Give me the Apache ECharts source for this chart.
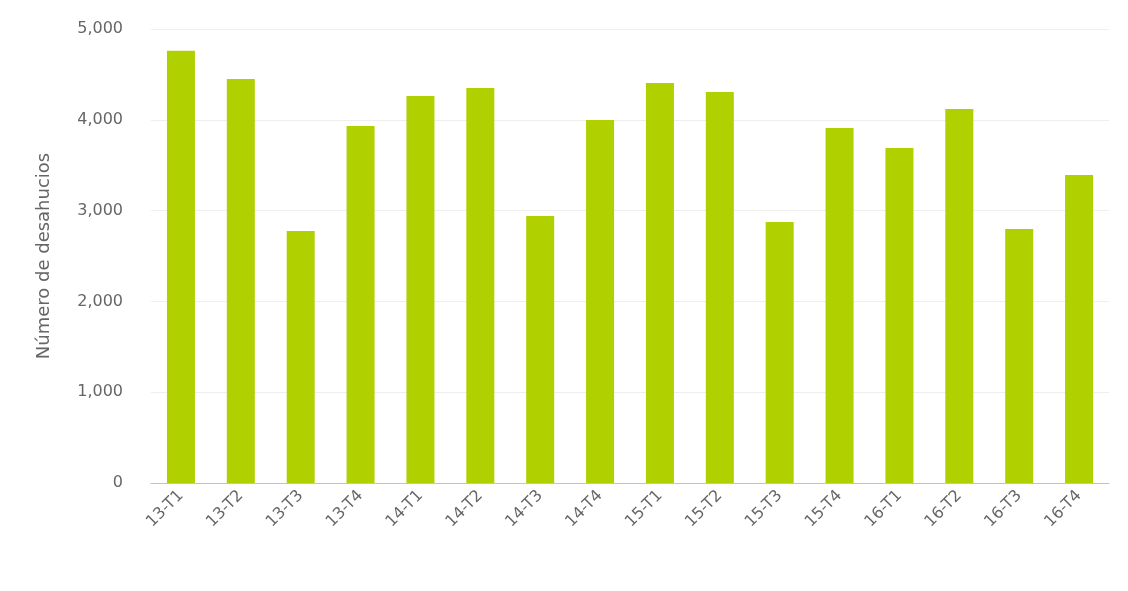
<!DOCTYPE html>
<html>
<head>
<meta charset="utf-8">
<script src="https://cdn.jsdelivr.net/npm/echarts@6/dist/echarts.min.js"></script>
<style>html,body{margin:0;padding:0;background:#fff}#main{width:1128px;height:591px}</style>
</head>
<body>
<div id="main"></div>
<script>
var categories = ['13-T1','13-T2','13-T3','13-T4','14-T1','14-T2','14-T3','14-T4','15-T1','15-T2','15-T3','15-T4','16-T1','16-T2','16-T3','16-T4'];
var desahucios = [4760, 4450, 2775, 3932, 4262, 4350, 2940, 3998, 4405, 4306, 2874, 3910, 3689, 4119, 2797, 3392];

var myChart = echarts.init(document.getElementById('main'));
var option = {
    animation: false,
    grid: { left: 151, right: 19, top: 29, bottom: 108, containLabel: false },
    xAxis: {
        type: 'category',
        data: categories,
        axisLine: { lineStyle: { color: '#b8c4d8' } },
        axisTick: { length: 16, lineStyle: { color: '#b8c4d8' } },
        axisLabel: { rotate: 45, color: '#666', fontSize: 16, fontFamily: 'DejaVu Sans', margin: 10 }
    },
    yAxis: {
        type: 'value',
        min: 0, max: 5000, interval: 1000,
        name: 'Número de desahucios',
        nameLocation: 'middle',
        nameGap: 98,
        nameTextStyle: { color: '#666', fontSize: 18, fontFamily: 'DejaVu Sans' },
        axisLabel: { color: '#666', fontSize: 16, fontFamily: 'DejaVu Sans', margin: 28 },
        splitLine: { lineStyle: { color: '#eeeeee' } }
    },
    series: [{
        type: 'bar',
        data: desahucios,
        barWidth: 28,
        itemStyle: { color: '#b0d000' }
    }]
};
myChart.setOption(option);
</script>
</body>
</html>
